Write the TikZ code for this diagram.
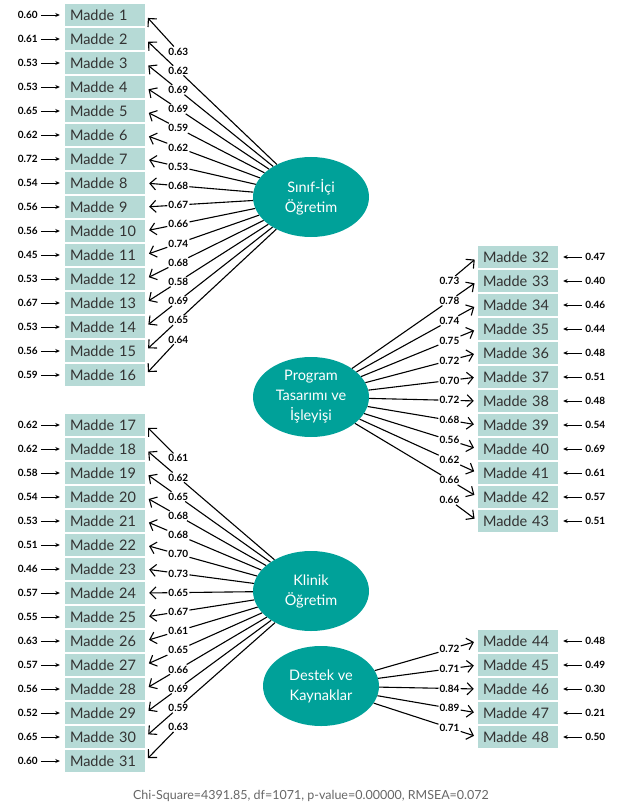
\documentclass[tikz,border=0pt]{standalone}
\usepackage{fontspec}
\setmainfont{Lato}
\usepackage{xcolor}
\usepackage{tikz}
\usetikzlibrary{shapes,arrows.meta,positioning,calc}

\definecolor{boxgreen}{HTML}{B6DAD6}
\definecolor{latentgreen}{HTML}{00A199}

\begin{document}
\begin{tikzpicture}[x=1pt,y=-1pt,
  madde/.style={fill=boxgreen,text=black!80,text width=70pt,align=left,inner xsep=5pt,minimum height=21.5pt,font=\fontsize{14.5}{16}\selectfont},
  latent/.style={ellipse,fill=latentgreen,text=white,minimum width=116pt,minimum height=80pt,inner sep=0pt,align=center,font=\fontsize{14.5}{20}\selectfont},
  err/.style={font=\fontsize{10}{12}\selectfont\bfseries,inner sep=1pt},
  load/.style={font=\fontsize{10}{12}\selectfont\bfseries,inner sep=1pt},
  errarrow/.style={-{Stealth[length=4.5pt,width=4pt]},line width=0.9pt,shorten <=2pt,shorten >=5pt},
  loadarrow/.style={-{Straight Barb[length=6pt,width=12pt]},line width=1.1pt,shorten >=4pt},
  path/.style={line width=1.1pt}]
\useasboundingbox (0,0) rectangle (619,805);

% Latent factors
\node[latent] (SI) at (311,197) {Sınıf-İçi\\Öğretim};
\node[latent] (PT) at (311,397) {Program\\Tasarımı ve\\İşleyişi};
\node[latent] (KO) at (311,591) {Klinik\\Öğretim};
\node[latent] (DK) at (321,686) {Destek ve\\Kaynaklar};

% Sinif-Ici Ogretim (Madde 1-16)
\foreach \i/\e/\l [count=\k from 0] in {1/0.60/0.63, 2/0.61/0.62, 3/0.53/0.69, 4/0.53/0.69,
    5/0.65/0.59, 6/0.62/0.62, 7/0.72/0.53, 8/0.54/0.68, 9/0.56/0.67, 10/0.56/0.66,
    11/0.45/0.74, 12/0.53/0.68, 13/0.67/0.58, 14/0.53/0.69, 15/0.56/0.65, 16/0.59/0.64}{
  \node[madde] (m\i) at (105,15+24*\k) {Madde \i};
  \node[err,left=26pt of m\i] (e\i) {\e};
  \draw[errarrow] (e\i) -- (m\i);
  \node[load] (l\i) at ($(SI)!0.8!(m\i.east)$) {\l};
  \draw[loadarrow] (l\i) -- (m\i.east);
  \ifnum\i>1 \ifnum\i<16 \draw[path] (SI) -- (l\i); \fi\fi
}

% Klinik Ogretim (Madde 17-31)
\foreach \i/\e/\l [count=\k from 0] in {17/0.62/0.61, 18/0.62/0.62, 19/0.58/0.65, 20/0.54/0.68,
    21/0.53/0.68, 22/0.51/0.70, 23/0.46/0.73, 24/0.57/0.65, 25/0.55/0.67, 26/0.63/0.61,
    27/0.57/0.65, 28/0.56/0.66, 29/0.52/0.69, 30/0.65/0.59, 31/0.60/0.63}{
  \node[madde] (m\i) at (105,425+24*\k) {Madde \i};
  \node[err,left=26pt of m\i] (e\i) {\e};
  \draw[errarrow] (e\i) -- (m\i);
  \node[load] (l\i) at ($(KO)!0.8!(m\i.east)$) {\l};
  \draw[loadarrow] (l\i) -- (m\i.east);
  \ifnum\i>17 \ifnum\i<31 \draw[path] (KO) -- (l\i); \fi\fi
}

% Program Tasarimi ve Isleyisi (Madde 32-43)
\foreach \i/\e/\l [count=\k from 0] in {32/0.47/0.73, 33/0.40/0.78, 34/0.46/0.74, 35/0.44/0.75,
    36/0.48/0.72, 37/0.51/0.70, 38/0.48/0.72, 39/0.54/0.68, 40/0.69/0.56, 41/0.61/0.62,
    42/0.57/0.66, 43/0.51/0.66}{
  \node[madde] (m\i) at (518,257+24*\k) {Madde \i};
  \node[err,right=26pt of m\i] (e\i) {\e};
  \draw[errarrow] (e\i) -- (m\i);
  \node[load] (l\i) at ($(PT)!0.83!(m\i.west)$) {\l};
  \draw[loadarrow] (l\i) -- (m\i.west);
  \ifnum\i>32 \ifnum\i<43 \draw[path] (PT) -- (l\i); \fi\fi
}

% Destek ve Kaynaklar (Madde 44-48)
\foreach \i/\e/\l [count=\k from 0] in {44/0.48/0.72, 45/0.49/0.71, 46/0.30/0.84, 47/0.21/0.89, 48/0.50/0.71}{
  \node[madde] (m\i) at (518,641+24*\k) {Madde \i};
  \node[err,right=26pt of m\i] (e\i) {\e};
  \draw[errarrow] (e\i) -- (m\i);
  \node[load] (l\i) at ($(DK)!0.82!(m\i.west)$) {\l};
  \draw[loadarrow] (l\i) -- (m\i.west);
  \draw[path] (DK) -- (l\i);
}

% Fit statistics
\node[font=\fontsize{12.5}{14}\selectfont,text=black!60] (fit) at (311,796)
  {Chi-Square=4391.85, df=1071, p-value=0.00000, RMSEA=0.072};
\end{tikzpicture}
\end{document}
